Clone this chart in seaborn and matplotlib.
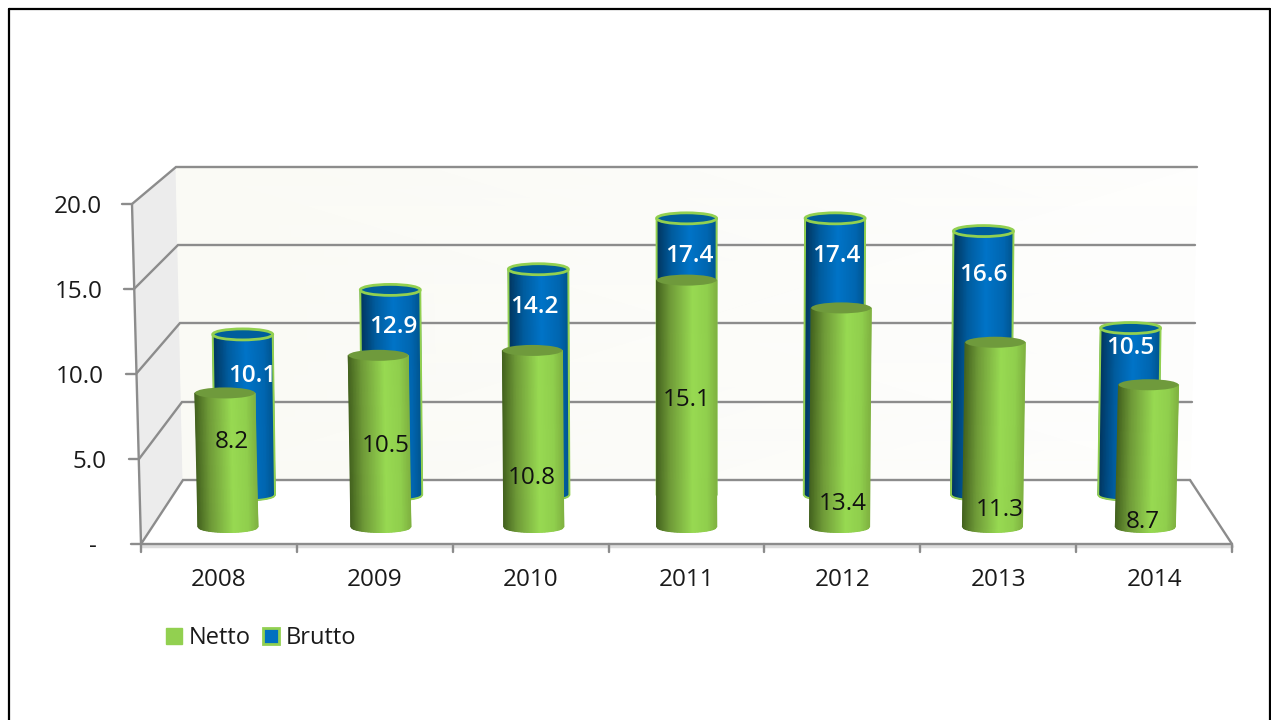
# -*- coding: utf-8 -*-
"""Netto / Brutto cylinder chart, faked 3D on flat seaborn bars."""
from matplotlib import pyplot as plt
from matplotlib.colors import LinearSegmentedColormap
from matplotlib.patches import Ellipse, Patch, Polygon

import numpy as np

import pandas as pd

import seaborn as sns

years = [2008, 2009, 2010, 2011, 2012, 2013, 2014]
netto = [8.2, 10.5, 10.8, 15.1, 13.4, 11.3, 8.7]
brutto = [10.1, 12.9, 14.2, 17.4, 17.4, 16.6, 10.5]
y_tick_labels = ['-', '5.0', '10.0', '15.0', '20.0']

# where the value labels sit in the picture (pixels)
netto_label_xy = [(232, 442), (386, 446), (532, 478), (687, 400),
                  (843, 504), (1000, 510), (1143, 522)]
brutto_label_xy = [(252, 376), (393, 327), (534, 307), (689, 256),
                   (836, 256), (983, 275), (1130, 348)]

W, H = 1271, 720
LINE = '#8C8C8C'
TEXT = '#1A1A1A'
GREEN = '#92D050'
BLUE = '#0070C0'
FONT = 17.5

sns.set_style('white')
plt.rcParams['font.family'] = ['Open Sans', 'DejaVu Sans']

green_cmap = LinearSegmentedColormap.from_list(
    'green_cyl', [(0, '#44631F'), (0.22, '#6F9A38'), (0.6, '#98DA52'),
                  (0.85, '#90CF4D'), (1, '#80B341')])
blue_cmap = LinearSegmentedColormap.from_list(
    'blue_cyl', [(0, '#01355E'), (0.25, '#005C9E'), (0.55, '#0074C8'),
                 (0.85, '#0066B0'), (1, '#00558F')])


def px_axes(fig, left, right, bottom, top, zorder):
    """Axes placed by its pixel box (y measured from the top of the picture)."""
    ax = fig.add_axes([left / W, 1 - bottom / H, (right - left) / W,
                       (bottom - top) / H], zorder=zorder)
    ax.patch.set_visible(False)
    return ax


def draw_chrome(ax):
    """Walls, floor, gridlines, ticks and axis labels, in pixel coordinates."""
    ax.set_xlim(0, W)
    ax.set_ylim(H, 0)
    ax.axis('off')

    # frame of the picture
    ax.plot([9, 9], [H, 9], color='black', lw=1.6)
    ax.plot([9, 1270], [9, 9], color='black', lw=1.6)
    ax.plot([1270, 1270], [9, H], color='black', lw=1.6)

    # side wall and back wall
    ax.add_patch(Polygon([(132, 204), (176, 167), (183, 480), (141, 544)],
                         closed=True, fc='#ECECEC', ec='none', zorder=1))
    ax.pcolormesh(np.array([[176, 1197], [183, 1190]]),
                  np.array([[167, 167], [480, 480]]),
                  np.array([[0.0, 1.0], [0.0, 1.0]]), shading='gouraud',
                  cmap=LinearSegmentedColormap.from_list(
                      'wall', ['#FAFAF5', '#FAFAF5', '#FEFEFD']), zorder=1)

    # gridlines run from the tick, over the side wall, along the back wall
    tick_y = [544, 459, 374, 289, 204]
    axis_x = [141, 139, 136, 134, 132]
    label_right = [97, 106, 104, 103, 102]
    back_y = [480, 402, 323, 245, 167]
    back_l = [183, 182, 180, 178, 176]
    back_r = [1190, 1192, 1195, 1195, 1197]
    for i, label in enumerate(y_tick_labels):
        ax.plot([axis_x[i] - 10, axis_x[i], back_l[i], back_r[i]],
                [tick_y[i], tick_y[i], back_y[i], back_y[i]],
                color=LINE, lw=1.7, zorder=2, solid_joinstyle='miter')
        ax.text(label_right[i], tick_y[i] + 3, label, ha='right', va='center',
                fontsize=FONT, color=TEXT, zorder=3)
    ax.plot([132, 141], [204, 544], color=LINE, lw=1.7, zorder=2)

    # floor
    ax.plot([1190, 1232], [480, 544], color=LINE, lw=1.7, zorder=2)
    ax.plot([141, 1232], [546, 546], color='#DDDDDD', lw=2.5, zorder=1)
    ax.plot([141, 1232], [544, 544], color=LINE, lw=1.7, zorder=2)
    edges = np.linspace(141, 1232, len(years) + 1)
    for x in edges:
        ax.plot([x, x], [544, 552], color=LINE, lw=1.7, zorder=2)
    for i, year in enumerate(years):
        ax.text((edges[i] + edges[i + 1]) / 2, 580, str(year), ha='center',
                va='center', fontsize=FONT, color=TEXT, zorder=3)


def draw_cylinders(ax, values, px_per_x, px_per_y, cmap, top_color, rim, tilt):
    """Draw bars with seaborn, then dress each one up as a cylinder."""
    df = pd.DataFrame({'year': years, 'value': values})
    sns.barplot(data=df, x='year', y='value', ax=ax, color=top_color,
                width=60 / px_per_x, saturation=1, native_scale=True,
                legend=False)
    ax.set_xlim(years[0] - 0.5, years[-1] + 0.5)
    ax.set_ylim(0, 20)
    ax.axis('off')

    centre = (years[0] + years[-1]) / 2
    u = np.linspace(0, 1, 41)
    arc = 5.5 * np.sqrt(np.clip(1 - (2 * u - 1) ** 2, 0, 1)) / px_per_y
    for bar in ax.patches:
        x, w, h = bar.get_x(), bar.get_width(), bar.get_height()
        mid = x + w / 2
        # tops lean away from the middle of the chart, like the 3D projection
        lean = tilt * h * px_per_y * (mid - centre)
        xs_bottom = x + u * w
        xs_top = xs_bottom + lean
        ys_bottom = -arc
        ys_top = np.full_like(u, h)
        ax.pcolormesh(np.vstack([xs_bottom, xs_top]),
                      np.vstack([ys_bottom, ys_top]),
                      np.vstack([u, u]), shading='gouraud', cmap=cmap,
                      clip_on=False, zorder=3)
        ax.add_patch(Ellipse((mid + lean, h), w, 11 / px_per_y, fc=top_color,
                             ec=rim if rim else 'none', lw=2, clip_on=False,
                             zorder=4))
        if rim:
            ax.plot(np.r_[xs_top[0], xs_bottom, xs_top[-1]],
                    np.r_[h, ys_bottom, h], color=rim, lw=1.4,
                    clip_on=False, zorder=3.5)
        # the flat bar stays underneath
        bar.set_x(x + 0.06 * w)
        bar.set_width(0.88 * w)


fig = plt.figure(figsize=(W / 100, H / 100), dpi=100, facecolor='white')

chrome_ax = px_axes(fig, 0, W, H, 0, 0)
draw_chrome(chrome_ax)

# each series sits on its own depth plane, hence its own pixel box and scale
brutto_ax = px_axes(fig, 171.4, 1201.8, 495, 177, 1)
draw_cylinders(brutto_ax, brutto, 147.2, 15.9, blue_cmap, '#005E9C', GREEN,
               3.2e-5)
netto_ax = px_axes(fig, 151.5, 1221.8, 527, 200, 2)
draw_cylinders(netto_ax, netto, 152.9, 16.35, green_cmap, '#6F9A3C', None,
               4.9e-5)

for (x, y), value in zip(brutto_label_xy, brutto):
    fig.text(x / W, 1 - y / H, f'{value:.1f}', ha='center', va='center',
             fontsize=FONT, fontweight='semibold', color='white', zorder=5)
for (x, y), value in zip(netto_label_xy, netto):
    fig.text(x / W, 1 - y / H, f'{value:.1f}', ha='center', va='center',
             fontsize=FONT, color='#111111', zorder=5)

handles = [Patch(fc=GREEN, ec=GREEN, label='Netto'),
           Patch(fc=BLUE, ec=GREEN, lw=2, label='Brutto')]
fig.legend(handles=handles, ncol=2, loc='center left',
           bbox_to_anchor=(166 / W, 1 - 638 / H), frameon=False, fontsize=17,
           labelcolor=TEXT, borderpad=0, borderaxespad=0, handlelength=0.67,
           handleheight=0.67, handletextpad=0.3, columnspacing=0.5)

fig.savefig('out.png', dpi=100)
plt.close(fig)
